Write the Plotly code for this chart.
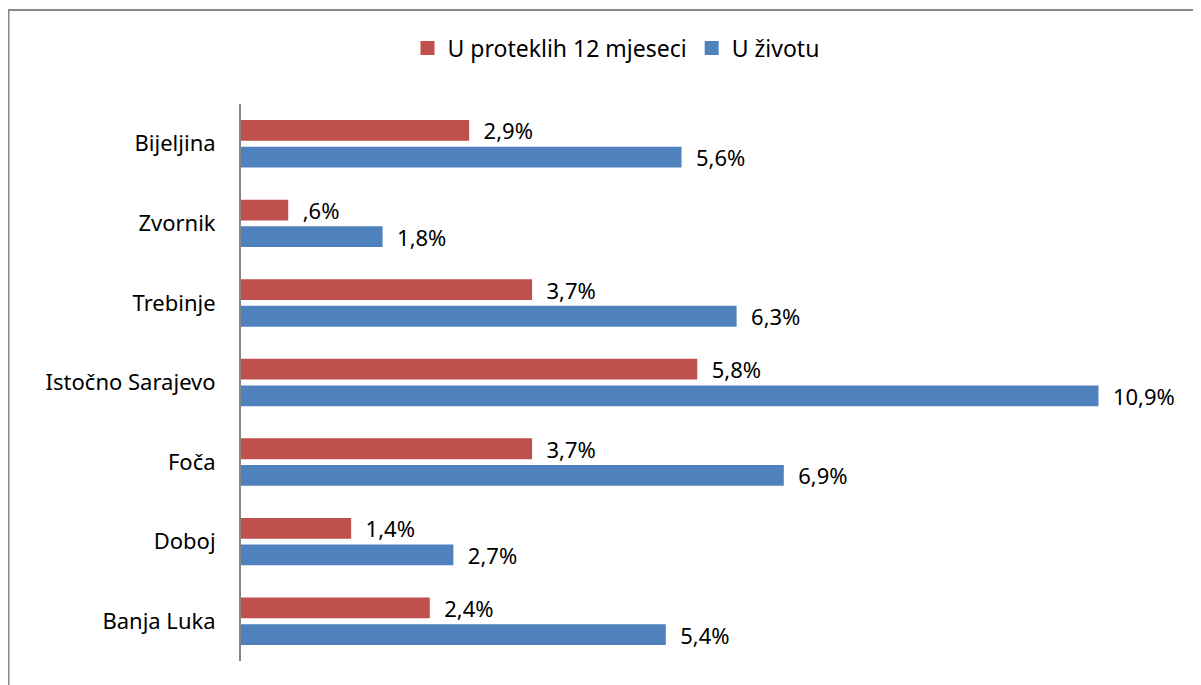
import plotly.graph_objects as go

# categories listed bottom to top, as plotted
gradovi = ["Banja Luka", "Doboj", "Foča", "Istočno Sarajevo", "Trebinje", "Zvornik", "Bijeljina"]
proteklih_12 = [2.4, 1.4, 3.7, 5.8, 3.7, 0.6, 2.9]
u_zivotu = [5.4, 2.7, 6.9, 10.9, 6.3, 1.8, 5.6]

FONT = "Noto Sans"
FS = 22
RED = "#C0504D"
BLUE = "#4F81BD"

# page body has an 8px margin, so the figure sits at (8, 8) in the window
OFF = 8


def fmt(v):
    # SPSS style: comma decimal, no leading zero
    s = ("%.1f" % v).replace(".", ",")
    if s.startswith("0,"):
        s = s[1:]
    return "  " + s + "%"


# plot area in window pixels
L, R, T, B = 241, 1185, 104, 661
W, H = 1201 - OFF, 685 - OFF

fig = go.Figure()
fig.add_trace(go.Bar(
    name="U životu", y=gradovi, x=u_zivotu, orientation="h",
    marker=dict(color=BLUE, line=dict(width=0)),
    text=[fmt(v) for v in u_zivotu], textposition="outside", cliponaxis=False,
    constraintext="none", showlegend=False,
    textfont=dict(family=FONT, size=FS, color="#000000"),
))
fig.add_trace(go.Bar(
    name="U proteklih 12 mjeseci", y=gradovi, x=proteklih_12, orientation="h",
    marker=dict(color=RED, line=dict(width=0)),
    text=[fmt(v) for v in proteklih_12], textposition="outside", cliponaxis=False,
    constraintext="none", showlegend=False,
    textfont=dict(family=FONT, size=FS, color="#000000"),
))

# legend entries with larger square swatches
for name, col in [("U proteklih 12 mjeseci", RED), ("U životu", BLUE)]:
    fig.add_trace(go.Scatter(
        name=name, x=[None], y=[None], mode="markers",
        marker=dict(symbol="square", size=14, color=col), showlegend=True,
    ))


def px(x):
    return (x - L) / (R - L)


def py(y):
    return (B - y) / (B - T)


# outer chart border (left and top edges visible)
fig.add_shape(type="line", xref="paper", yref="paper",
              x0=px(8.5), x1=px(8.5), y0=py(9), y1=py(700),
              line=dict(color="#888888", width=2))
fig.add_shape(type="line", xref="paper", yref="paper",
              x0=px(8), x1=px(1210), y0=py(10), y1=py(10),
              line=dict(color="#888888", width=2))

fig.update_layout(
    width=W, height=H,
    margin=dict(l=L - OFF, r=W + OFF - R, t=T - OFF, b=H + OFF - B),
    paper_bgcolor="white", plot_bgcolor="white",
    barmode="group", bargap=0.33, bargroupgap=0.22,
    font=dict(family=FONT, size=FS, color="#000000"),
    showlegend=True,
    legend=dict(orientation="h", x=px(616), xanchor="center", y=py(48), yanchor="middle",
                font=dict(family=FONT, size=23), itemwidth=30),
    xaxis=dict(range=[0, 12], showgrid=False, showticklabels=False, zeroline=False,
               showline=False, ticks=""),
    yaxis=dict(showgrid=False, showline=True, linecolor="#868686", linewidth=2,
               ticks="", ticklabelstandoff=19, tickfont=dict(family=FONT, size=FS)),
)

fig.write_html("out.html")
